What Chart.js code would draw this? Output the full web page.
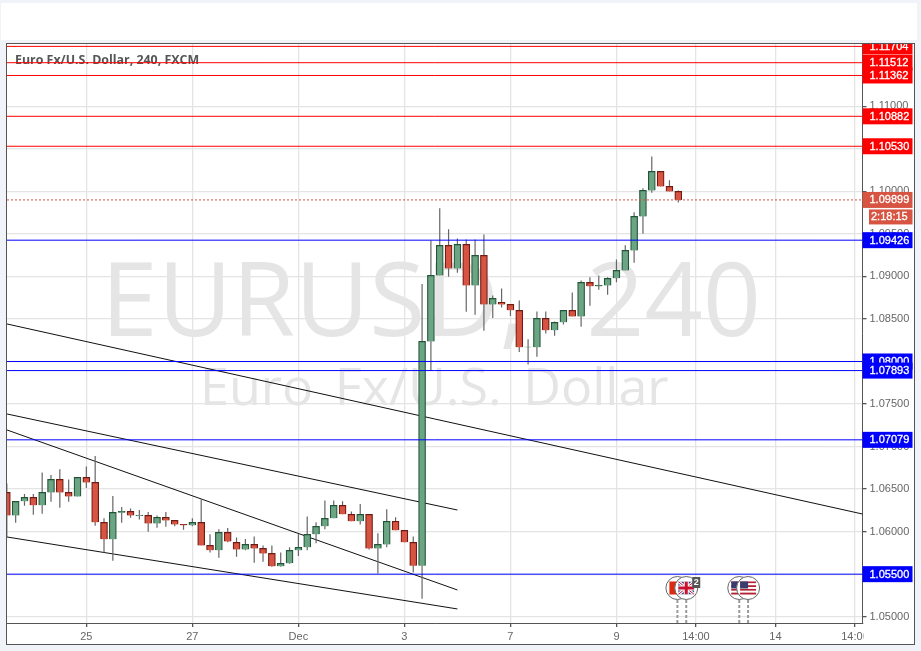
<!DOCTYPE html>
<html>
<head>
  <meta name="viewport" content="width=device-width, initial-scale=1.0">
  <script src="https://cdn.jsdelivr.net/npm/chart.js@4/dist/chart.umd.min.js"></script>
  <style>
    html, body { margin: 0; padding: 0; background: #f0f3f7; }
    .top { position: absolute; left: 1px; top: 3px; width: 916px; height: 37px; background: #fff; }
    .frame { position: absolute; left: 6px; top: 43px; width: 907px; height: 600px; border: 1px solid #555; background: #fff; }
    canvas { display: block; }
  </style>
</head>
<body>
  <div class="top"></div>
  <div class="frame"><canvas id="myChart" width="907" height="600"></canvas></div>
  <script>
  // 4h candles, bar 0 is the one cut off by the left edge
  const opens = [1.06461,1.06191,1.06356,1.06403,1.06309,1.06461,1.06614,1.06461,1.06414,1.06638,
    1.06579,1.06109,1.05909,1.06226,1.06238,1.06187,1.06191,1.06097,1.06168,1.06132,
    1.06085,1.06074,1.06109,1.05838,1.05780,1.05991,1.05874,1.05791,1.05850,1.05803,
    1.05744,1.05592,1.05627,1.05780,1.05815,1.05968,1.06062,1.06156,1.06309,1.06203,
    1.06121,1.06203,1.05803,1.05850,1.06121,1.06015,1.05874,1.05599,1.08236,1.09012,
    1.09365,1.09094,1.09376,1.08894,1.09247,1.08671,1.08695,1.08671,1.08601,1.08166,
    1.08166,1.08507,1.08366,1.08460,1.08601,1.08530,1.08930,1.08883,1.08894,1.08977,
    1.09071,1.09306,1.09705,1.10011,1.10234,1.10058,1.09999];
  const highs = [1.06567,1.06356,1.06442,1.06442,1.06696,1.06665,1.06732,1.06614,1.06638,1.06767,
    1.06889,1.06156,1.06418,1.06289,1.06273,1.06254,1.06230,1.06191,1.06230,1.06132,
    1.06085,1.06156,1.06379,1.05968,1.06027,1.06042,1.05932,1.05913,1.05944,1.05838,
    1.05838,1.05756,1.05815,1.05968,1.06179,1.06109,1.06367,1.06367,1.06356,1.06238,
    1.06324,1.06203,1.05980,1.06262,1.06168,1.06015,1.05944,1.08910,1.09423,1.09800,
    1.09553,1.09447,1.09435,1.09435,1.09494,1.08777,1.08859,1.08671,1.08718,1.08260,
    1.08589,1.08589,1.08471,1.08601,1.08812,1.08953,1.08989,1.09012,1.08989,1.09200,
    1.09365,1.09753,1.10035,1.10411,1.10234,1.10129,1.10011];
  const lows = [1.05932,1.06105,1.06305,1.06199,1.06211,1.06352,1.06281,1.06352,1.06414,1.06512,
    1.06070,1.05756,1.05658,1.06105,1.06164,1.06144,1.05999,1.06046,1.06058,1.06062,
    1.06023,1.06062,1.05838,1.05756,1.05693,1.05874,1.05705,1.05780,1.05635,1.05646,
    1.05588,1.05588,1.05623,1.05713,1.05780,1.05862,1.06027,1.06156,1.06203,1.06121,
    1.06085,1.05791,1.05509,1.05815,1.06015,1.05874,1.05521,1.05212,1.07888,1.09012,
    1.08996,1.09043,1.08585,1.08550,1.08362,1.08511,1.08636,1.08534,1.08111,1.07966,
    1.08056,1.08330,1.08303,1.08436,1.08530,1.08409,1.08655,1.08844,1.08785,1.08930,
    1.09071,1.09161,1.09502,1.09984,1.10058,1.09999,1.09870];
  const closes = [1.06191,1.06356,1.06403,1.06309,1.06461,1.06614,1.06461,1.06414,1.06638,1.06579,
    1.06109,1.05909,1.06226,1.06238,1.06191,1.06191,1.06097,1.06168,1.06132,1.06085,
    1.06074,1.06109,1.05838,1.05780,1.05991,1.05885,1.05791,1.05850,1.05803,1.05744,
    1.05592,1.05627,1.05780,1.05815,1.05968,1.06062,1.06156,1.06309,1.06203,1.06121,
    1.06203,1.05803,1.05850,1.06121,1.06015,1.05874,1.05599,1.08236,1.09012,1.09365,
    1.09094,1.09376,1.08894,1.09247,1.08671,1.08742,1.08671,1.08601,1.08166,1.08170,
    1.08507,1.08366,1.08460,1.08601,1.08530,1.08930,1.08883,1.08894,1.08977,1.09071,
    1.09306,1.09705,1.10011,1.10234,1.10058,1.09999,1.09899];

  const xTickBars = [9, 21, 33, 45, 57, 69, 78, 87, 96];
  const xTickLabels = ['25', '27', 'Dec', '3', '7', '9', '14:00', '14', '14:00'];
  const yTicks = [1.05, 1.055, 1.06, 1.065, 1.07, 1.075, 1.08, 1.085, 1.09, 1.095, 1.10, 1.105, 1.11];

  const redLevels = [1.11704, 1.11512, 1.11362, 1.10882, 1.10530];
  const blueLevels = [1.09426, 1.08000, 1.07893, 1.07079, 1.05500];
  const lastPrice = 1.09899;
  const countdown = '2:18:15';

  // [barFrom, priceFrom, barTo, priceTo]
  const trendA = [0.02, 1.08441, 96.85, 1.06207];
  const trendB = [0.02, 1.07383, 51, 1.06254];
  const trendC = [0.02, 1.07195, 51, 1.05314];
  const trendD = [0.02, 1.05937, 51, 1.05091];

  const eventBars = [75.9, 76.9, 82.9, 83.9];
  const eventFlags = ['red', 'uk', 'us', 'us'];

  const xMin = 0.02, xMax = 96.85;
  const yMin = 1.04926, yMax = 1.11732;

  const upFill = '#6ba583', upEdge = '#225437', downFill = '#d75442', downEdge = '#6f1a12';
  const labelFont = '11px "Liberation Sans", Arial, sans-serif';

  const isUp = closes.map((c, i) => c >= opens[i]);
  const wickData = highs.map((h, i) => ({x: i, y: [lows[i], h]}));
  const bodyData = closes.map((c, i) => ({x: i, y: [opens[i], c]}));

  function levelLine(price, color, extra) {
    return Object.assign({
      type: 'line',
      data: [{x: xMin, y: price}, {x: xMax, y: price}],
      borderColor: color, borderWidth: 1, pointRadius: 0, order: 0
    }, extra || {});
  }
  function trendLine(t) {
    return {
      type: 'line',
      data: [{x: t[0], y: t[1]}, {x: t[2], y: t[3]}],
      borderColor: '#111', borderWidth: 1, pointRadius: 0, order: 3
    };
  }

  function drawFlag(ctx, kind, cx, cy) {
    const w = 16, h = 13, l = cx - w / 2, t = cy - h / 2;
    ctx.save();
    ctx.beginPath();
    ctx.arc(cx, cy, 11.5, 0, Math.PI * 2);
    ctx.fillStyle = '#fff';
    ctx.fill();
    ctx.strokeStyle = '#666';
    ctx.lineWidth = 1;
    ctx.stroke();
    if (kind === 'red') {
      ctx.fillStyle = '#de2910';
      ctx.fillRect(l, t, w, h);
    } else if (kind === 'us') {
      for (let s = 0; s < 7; s++) {
        ctx.fillStyle = s % 2 ? '#fff' : '#b22234';
        ctx.fillRect(l, t + s * h / 7, w, h / 7);
      }
      ctx.fillStyle = '#3c3b6e';
      ctx.fillRect(l, t, 8, 7);
    } else {
      ctx.beginPath();
      ctx.rect(l, t, w, h);
      ctx.clip();
      ctx.fillStyle = '#2b3f87';
      ctx.fillRect(l, t, w, h);
      ctx.strokeStyle = '#fff';
      ctx.lineWidth = 3;
      ctx.beginPath();
      ctx.moveTo(l, t); ctx.lineTo(l + w, t + h);
      ctx.moveTo(l + w, t); ctx.lineTo(l, t + h);
      ctx.stroke();
      ctx.strokeStyle = '#c8102e';
      ctx.lineWidth = 1;
      ctx.stroke();
      ctx.fillStyle = '#fff';
      ctx.fillRect(cx - 2.5, t, 5, h);
      ctx.fillRect(l, cy - 2.5, w, 5);
      ctx.fillStyle = '#c8102e';
      ctx.fillRect(cx - 1.5, t, 3, h);
      ctx.fillRect(l, cy - 1.5, w, 3);
    }
    ctx.restore();
  }

  const backdrop = {
    id: 'backdrop',
    beforeDatasetsDraw(chart) {
      const ctx = chart.ctx, a = chart.chartArea;
      ctx.save();
      ctx.fillStyle = '#e5e5e5';
      ctx.textAlign = 'left';
      ctx.wordSpacing = '34px';
      ctx.font = '102px "Open Sans", sans-serif';
      ctx.fillText('EURUSD, 240', 94, 292);
      ctx.wordSpacing = '8px';
      ctx.font = '52px "Open Sans", sans-serif';
      ctx.fillText('Euro Fx/U.S. Dollar', 193, 361);
      ctx.wordSpacing = '0px';
      ctx.fillStyle = '#555';
      ctx.font = 'bold 12.4px "Open Sans", sans-serif';
      ctx.fillText('Euro Fx/U.S. Dollar, 240, FXCM', a.left + 8, a.top + 20);
      ctx.restore();
    }
  };

  const overlays = {
    id: 'overlays',
    afterDraw(chart) {
      const ctx = chart.ctx, a = chart.chartArea, y = chart.scales.y, x = chart.scales.x;
      ctx.save();
      // event markers sit over the plot
      const flagY = a.bottom - 35;
      eventBars.forEach(b => {
        const px = x.getPixelForValue(b);
        ctx.strokeStyle = '#999';
        ctx.lineWidth = 2;
        ctx.setLineDash([3, 2]);
        ctx.beginPath();
        ctx.moveTo(px, flagY + 12);
        ctx.lineTo(px, a.bottom);
        ctx.stroke();
      });
      ctx.setLineDash([]);
      eventBars.forEach((b, i) => drawFlag(ctx, eventFlags[i], x.getPixelForValue(b), flagY));
      const last = x.getPixelForValue(eventBars[1]);
      ctx.fillStyle = '#555';
      ctx.fillRect(last + 6, flagY - 11, 8, 11);
      ctx.fillStyle = '#fff';
      ctx.font = 'bold 9px "Liberation Sans", Arial, sans-serif';
      ctx.textAlign = 'center';
      ctx.textBaseline = 'middle';
      ctx.fillText('2', last + 10, flagY - 5);

      // hides the part of the last x label that runs past the plot
      ctx.fillStyle = '#fff';
      ctx.fillRect(a.right + 1, a.bottom + 2, 20, 18);

      // price tags on the axis
      ctx.font = labelFont;
      ctx.textAlign = 'left';
      ctx.lineWidth = 0.3;
      ctx.strokeStyle = '#fff';
      function tag(price, color) {
        const py = y.getPixelForValue(price);
        ctx.fillStyle = color;
        ctx.fillRect(a.right, py - 8, 50, 16);
        ctx.fillStyle = '#fff';
        ctx.fillText(price.toFixed(5), a.right + 7, py + 0.5);
        ctx.strokeText(price.toFixed(5), a.right + 7, py + 0.5);
      }
      redLevels.forEach(p => tag(p, '#ff0000'));
      blueLevels.forEach(p => tag(p, '#0000ff'));
      tag(lastPrice, downFill);
      const py = y.getPixelForValue(lastPrice);
      ctx.fillStyle = downFill;
      ctx.fillRect(a.right + 6.5, py + 9.5, 43.5, 15);
      ctx.fillStyle = '#fff';
      ctx.fillText(countdown, a.right + 8.5, py + 17.5);
      ctx.strokeText(countdown, a.right + 8.5, py + 17.5);
      ctx.restore();
    }
  };

  const ctx = document.getElementById('myChart').getContext('2d');
  const myChart = new Chart(ctx, {
    type: 'bar',
    data: {
      datasets: [
        {label: 'wicks', data: wickData, backgroundColor: '#666668', barThickness: 1.2, grouped: false, inflateAmount: 0, borderWidth: 0, order: 2},
        {label: 'bodies', data: bodyData, grouped: false, barThickness: 7, borderWidth: 1.2, order: 1,
          backgroundColor: isUp.map(u => u ? upFill : downFill),
          borderColor: isUp.map(u => u ? upEdge : downEdge)},
        trendLine(trendA), trendLine(trendB), trendLine(trendC), trendLine(trendD),
        ...redLevels.map(p => levelLine(p, '#ff0000')),
        ...blueLevels.map(p => levelLine(p, '#0000ff')),
        levelLine(lastPrice, downFill, {borderDash: [2, 2]})
      ]
    },
    plugins: [backdrop, overlays],
    options: {
      responsive: false,
      animation: false,
      layout: {padding: 0},
      plugins: {legend: {display: false}, title: {display: false}, tooltip: {enabled: false}},
      scales: {
        x: {
          type: 'linear', min: xMin, max: xMax, offset: false,
          afterFit: s => { s.height = 21; s.paddingLeft = 0; s.paddingRight = 0; },
          afterBuildTicks: s => { s.ticks = xTickBars.map(v => ({value: v})); },
          grid: {color: '#e4e4e4', lineWidth: 1.3, offset: false, tickColor: '#555', tickLength: 4},
          border: {color: '#555', width: 1},
          ticks: {
            autoSkip: false, maxRotation: 0, padding: 3, color: '#666',
            font: {family: '"Liberation Sans", Arial, sans-serif', size: 11},
            callback: v => xTickLabels[xTickBars.indexOf(v)]
          }
        },
        y: {
          position: 'right', min: yMin, max: yMax,
          afterFit: s => { s.width = 51.5; s.paddingTop = 0; s.paddingBottom = 0; },
          afterBuildTicks: s => { s.ticks = yTicks.map(v => ({value: v})); },
          grid: {color: '#e4e4e4', lineWidth: 1.3, tickColor: '#555', tickLength: 4},
          border: {color: '#555', width: 1},
          ticks: {
            padding: 3, color: '#666',
            font: {family: '"Liberation Sans", Arial, sans-serif', size: 11},
            callback: v => v.toFixed(5)
          }
        }
      }
    }
  });
  </script>
</body>
</html>
